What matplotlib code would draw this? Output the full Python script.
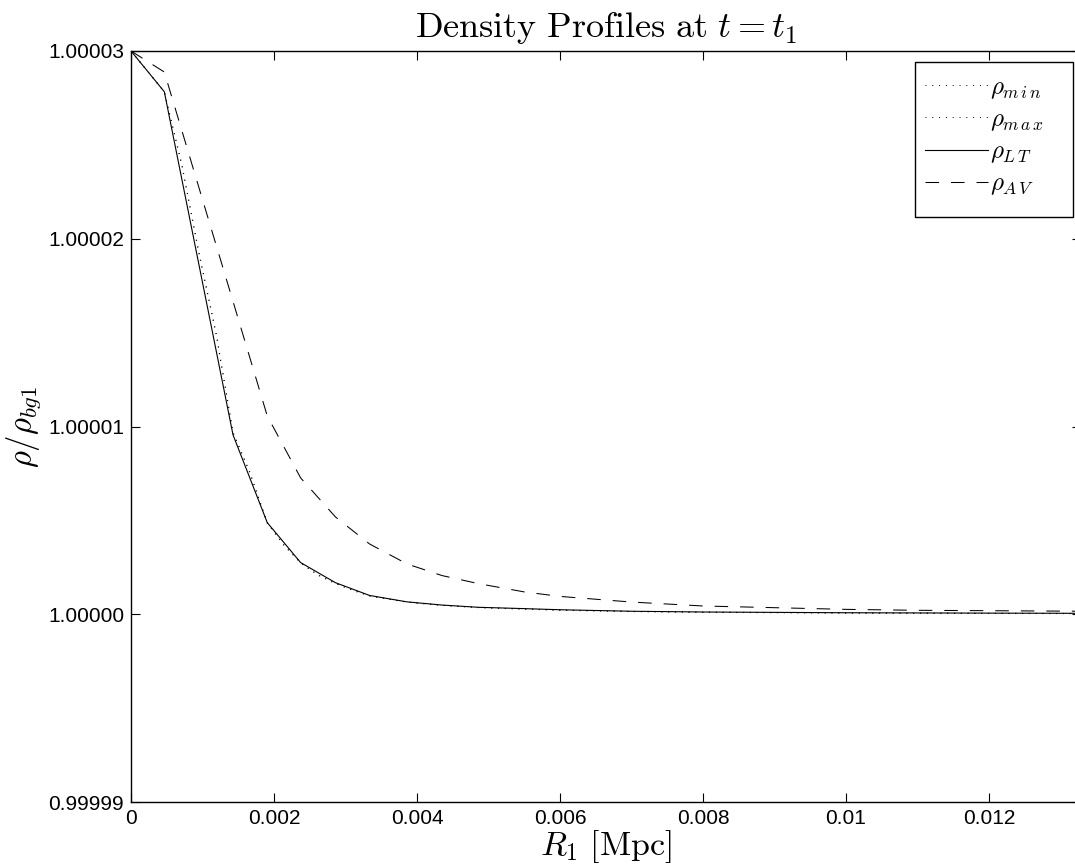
import numpy as np
import matplotlib
matplotlib.use("Agg")
import matplotlib.pyplot as plt
from matplotlib.lines import Line2D
from matplotlib.patches import Rectangle

plt.rcParams['mathtext.fontset'] = 'cm'
plt.rcParams['font.family'] = ['Liberation Sans', 'DejaVu Sans']

# radius R1 [Mpc] and density contrast in units of 1e-5 above 1
r_lt = [0, 0.000466, 0.001427, 0.001906, 0.002373, 0.00286, 0.003338, 0.00386,
        0.00435, 0.00486, 0.0055, 0.006, 0.007, 0.008, 0.009, 0.010, 0.011,
        0.012, 0.0133]
d_lt = [3.0, 2.783, 0.955, 0.488, 0.275, 0.168, 0.10, 0.066,
        0.049, 0.037, 0.030, 0.024, 0.016, 0.012, 0.010, 0.008, 0.007,
        0.006, 0.005]

d_av = [3.0, 2.888, 1.666, 1.056, 0.726, 0.518, 0.374, 0.268,
        0.206, 0.163, 0.119, 0.095, 0.065, 0.044, 0.035, 0.026, 0.021,
        0.019, 0.016]

r_fine = [0, 0.000466, 0.00071, 0.00095, 0.00119, 0.001427, 0.00166, 0.001906,
          0.00214, 0.002373, 0.00262, 0.00286, 0.0031, 0.003338, 0.00386,
          0.00435, 0.00486, 0.0055, 0.006, 0.007, 0.008, 0.009, 0.010, 0.011,
          0.012, 0.0133]
d_min = [3.0, 2.783, 2.40, 1.93, 1.50, 0.97, 0.76, 0.488,
         0.369, 0.275, 0.209, 0.165, 0.129, 0.098, 0.065,
         0.048, 0.036, 0.028, 0.022, 0.015, 0.011, 0.009, 0.007, 0.006,
         0.005, 0.004]
d_max = [3.0, 2.783, 2.39, 1.92, 1.49, 0.965, 0.755, 0.485,
         0.366, 0.272, 0.207, 0.163, 0.127, 0.097, 0.064,
         0.047, 0.035, 0.027, 0.021, 0.014, 0.010, 0.008, 0.006, 0.005,
         0.004, 0.003]

xticks = [0, 0.002, 0.004, 0.006, 0.008, 0.01, 0.012]
xlabels = ['0', '0.002', '0.004', '0.006', '0.008', '0.01', '0.012']
yticks = [0.99999, 1.0, 1.00001, 1.00002, 1.00003]
ylabels = ['0.99999', '1.00000', '1.00001', '1.00002', '1.00003']


def rho(d):
    return 1 + np.array(d) * 1e-5


fig = plt.figure(figsize=(10.75, 8.66), dpi=100)
ax = fig.add_axes([131 / 1075, 1 - 802 / 866, 950 / 1075, 751 / 866])

dot = (0, (1, 6))
dash = (0, (13, 11.5))
ax.plot(r_fine, rho(d_min), color='k', lw=0.7, linestyle=dot)
ax.plot(r_fine, rho(d_max), color='k', lw=0.7, linestyle=dot)
ax.plot(r_lt, rho(d_lt), color='k', lw=0.8)
ax.plot(r_lt, rho(d_av), color='k', lw=0.75, linestyle=dash)

ax.set_xlim(0, 0.013287)
ax.set_ylim(0.99999, 1.00003)
ax.set_xticks(xticks)
ax.set_xticklabels(xlabels)
ax.set_yticks(yticks)
ax.set_yticklabels(ylabels)
ax.tick_params(direction='in', length=6.5, width=0.8, labelsize=15,
               top=True, right=True, pad=5)
for s in ax.spines.values():
    s.set_linewidth(1.0)

ax.set_title(r'$\mathrm{Density\ Profiles\ at\ }t = t_1$', fontsize=26, pad=10)
ax.set_xlabel(r'$R_1\ [\mathrm{Mpc}]$', fontsize=24.5, labelpad=0)
ax.set_ylabel(r'$\rho/\rho_{bg1}$', fontsize=23.5)
ax.yaxis.set_label_coords(-0.093, 0.5)

# legend box drawn separately so its size matches
box = Rectangle((915 / 1075, 1 - 217 / 866), 158 / 1075, 155 / 866,
                transform=fig.transFigure, facecolor='white', edgecolor='k',
                lw=1.0, zorder=5)
fig.add_artist(box)

handles = [Line2D([], [], color='k', lw=0.7, linestyle=dot),
           Line2D([], [], color='k', lw=0.7, linestyle=dot),
           Line2D([], [], color='k', lw=0.8),
           Line2D([], [], color='k', lw=0.75, linestyle=dash)]
labels = [r'$\rho_{m\,i\,n}$', r'$\rho_{m\,a\,x}$', r'$\rho_{L\,T}$',
          r'$\rho_{A\,V}$']
leg = fig.legend(handles, labels, loc='upper left',
                 bbox_to_anchor=(915 / 1075, 1 - 65 / 866),
                 bbox_transform=fig.transFigure, fontsize=18,
                 handlelength=2.5, handletextpad=0.1, labelspacing=0.25,
                 borderpad=0.4, borderaxespad=0, frameon=False)
leg.set_zorder(6)

fig.savefig('out.png', dpi=100)
